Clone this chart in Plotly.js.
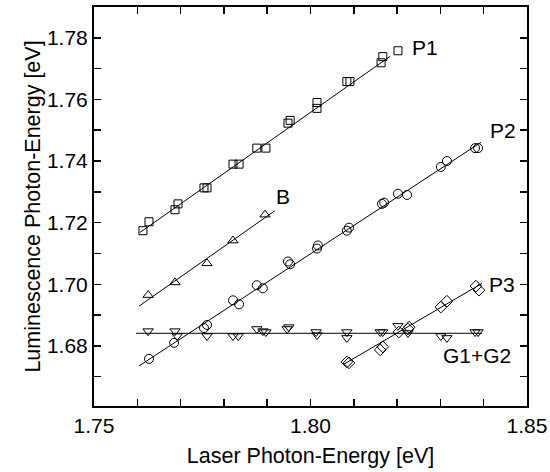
<!DOCTYPE html>
<html>
<head>
<meta charset="utf-8">
<script src="https://cdn.plot.ly/plotly-3.0.1.min.js"></script>
<style>html,body{margin:0;padding:0;background:#fff;}#chart{width:550px;height:472px;}</style>
</head>
<body>
<div id="chart"></div>
<script>
// P1 (open squares)
const p1X = [1.7613,1.7627,1.7687,1.7694,1.7754,1.7761,1.7821,1.7835,1.7876,1.7897,1.7948,1.7953,1.8015,1.8015,1.8084,1.8091,1.8163,1.8167,1.8202];
const p1Y = [1.7174,1.7203,1.7242,1.7261,1.7313,1.7313,1.7390,1.7390,1.7442,1.7442,1.7523,1.7532,1.7590,1.7571,1.7658,1.7658,1.7719,1.7739,1.7758];
const p1FitX = [1.7606, 1.8184];
const p1FitY = [1.7168, 1.7740];

// B (open up-triangles)
const bX = [1.7625,1.7687,1.7761,1.7821,1.7895];
const bY = [1.6965,1.7006,1.7068,1.7142,1.7226];
const bFitX = [1.7604, 1.7918];
const bFitY = [1.6929, 1.7239];

// P2 (open circles)
const p2X = [1.7627,1.7685,1.7754,1.7761,1.7821,1.7835,1.7876,1.7890,1.7948,1.7953,1.8015,1.8017,1.8084,1.8089,1.8165,1.8170,1.8202,1.8223,1.8301,1.8315,1.8380,1.8387];
const p2Y = [1.6758,1.6810,1.6858,1.6868,1.6948,1.6935,1.6997,1.6987,1.7074,1.7065,1.7116,1.7126,1.7174,1.7184,1.7261,1.7265,1.7294,1.7290,1.7381,1.7400,1.7442,1.7442];
const p2FitX = [1.7604, 1.8394];
const p2FitY = [1.6735, 1.7461];

// G1+G2 (open down-triangles)
const gX = [1.7625,1.7687,1.7692,1.7761,1.7821,1.7833,1.7876,1.7890,1.7897,1.7946,1.7950,1.8013,1.8015,1.8084,1.8084,1.8161,1.8167,1.8202,1.8225,1.8301,1.8315,1.8380,1.8387];
const gY = [1.6848,1.6848,1.6832,1.6832,1.6832,1.6832,1.6855,1.6848,1.6845,1.6855,1.6861,1.6845,1.6835,1.6845,1.6826,1.6845,1.6845,1.6865,1.6842,1.6832,1.6826,1.6845,1.6845];
const gFitX = [1.7597, 1.8396];
const gFitY = [1.6841, 1.6841];

// P3 (open diamonds)
const p3X = [1.8084,1.8089,1.8161,1.8167,1.8204,1.8225,1.8228,1.8301,1.8315,1.8382,1.8389];
const p3Y = [1.6748,1.6745,1.6787,1.6797,1.6845,1.6855,1.6861,1.6926,1.6945,1.6994,1.6981];
const p3FitX = [1.8075, 1.8396];
const p3FitY = [1.6739, 1.7003];

const seriesLabels = ["P1", "B", "P2", "P3", "G1+G2"];

const FONT = "Liberation Sans, Arial, sans-serif";
function pts(x, y, sym, size) {
  return {x: x, y: y, type: "scatter", mode: "markers", showlegend: false, hoverinfo: "skip",
    marker: {symbol: sym, size: size, color: "#000", line: {color: "#000", width: 1}}};
}
function fit(x, y) {
  return {x: x, y: y, type: "scatter", mode: "lines", showlegend: false, hoverinfo: "skip",
    line: {color: "#000", width: 1}};
}
const data = [
  fit(p1FitX, p1FitY), fit(bFitX, bFitY), fit(p2FitX, p2FitY), fit(gFitX, gFitY), fit(p3FitX, p3FitY),
  pts(p1X, p1Y, "square-open", 8),
  pts(bX, bY, "triangle-up-open", 9),
  pts(p2X, p2Y, "circle-open", 9),
  pts(gX, gY, "triangle-down-open", 9),
  pts(p3X, p3Y, "diamond-open", 9)
];

function ann(text, x, y) {
  return {text: text, x: x, y: y, xref: "x", yref: "y", showarrow: false,
    font: {family: FONT, size: 21, color: "#000"}};
}

const layout = {
  width: 550, height: 472,
  margin: {l: 94, r: 23, t: 7, b: 66},
  paper_bgcolor: "#fff", plot_bgcolor: "#fff",
  font: {family: FONT, size: 21, color: "#000"},
  xaxis: {
    range: [1.75, 1.85], dtick: 0.05, tick0: 1.75, tickformat: ".2f",
    ticks: "inside", ticklen: 7, tickwidth: 1.5, tickcolor: "#000",
    minor: {dtick: 0.01, ticks: "inside", ticklen: 7, tickwidth: 1.5, tickcolor: "#000", showgrid: false},
    showline: true, linewidth: 2, linecolor: "#000", mirror: "ticks",
    showgrid: false, zeroline: false,
    tickfont: {family: FONT, size: 21},
    title: {text: "Laser Photon-Energy [eV]", font: {family: FONT, size: 21.5}, standoff: 12}
  },
  yaxis: {
    range: [1.6605, 1.79], dtick: 0.02, tick0: 1.66, tickformat: ".2f",
    ticks: "inside", ticklen: 7, tickwidth: 1.5, tickcolor: "#000",
    minor: {dtick: 0.01, ticks: "inside", ticklen: 7, tickwidth: 1.5, tickcolor: "#000", showgrid: false},
    showline: true, linewidth: 2, linecolor: "#000", mirror: "ticks",
    showgrid: false, zeroline: false,
    tickfont: {family: FONT, size: 21},
    title: {text: "Luminescence Photon-Energy [eV]", font: {family: FONT, size: 21.5}, standoff: 0}
  },
  annotations: [
    ann(seriesLabels[0], 1.8264, 1.7768),
    ann(seriesLabels[1], 1.7936, 1.7284),
    ann(seriesLabels[2], 1.8445, 1.7500),
    ann(seriesLabels[3], 1.8442, 1.7000),
    ann(seriesLabels[4], 1.8384, 1.6768)
  ]
};

Plotly.newPlot("chart", data, layout, {staticPlot: true, displayModeBar: false});
</script>
</body>
</html>
